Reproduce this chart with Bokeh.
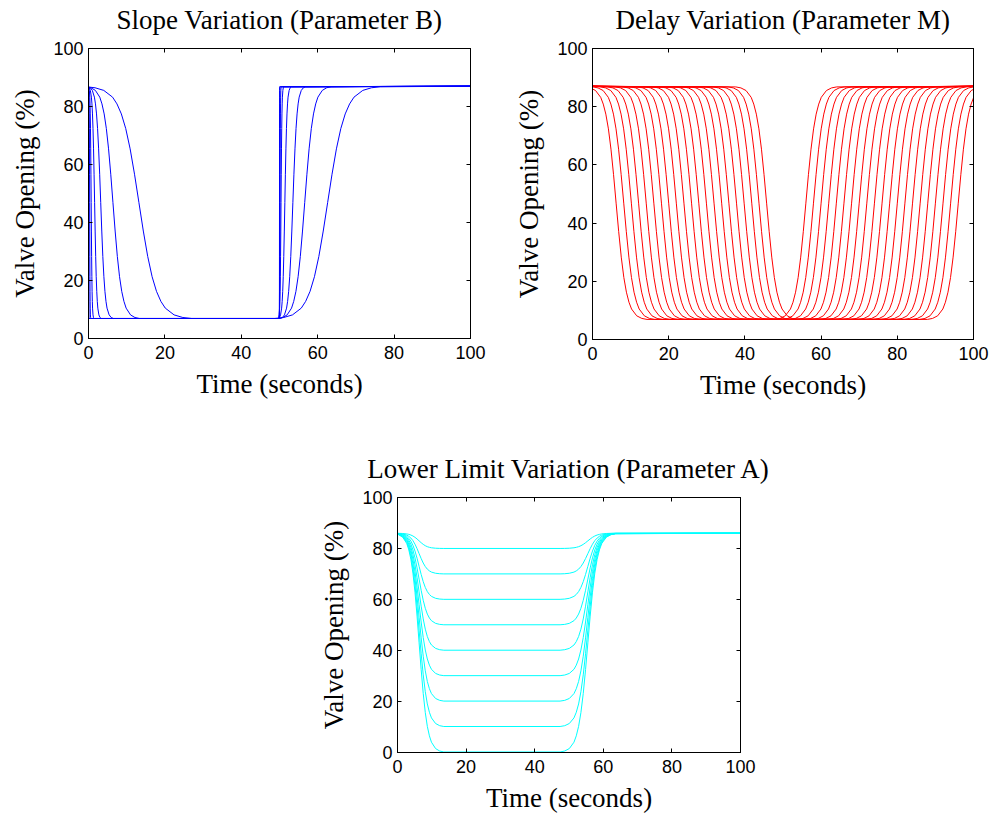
from bokeh.plotting import figure
from bokeh.layouts import column, row
from bokeh.models import ColumnDataSource, Range1d, LinearAxis, FixedTicker
from bokeh.embed import file_html
from bokeh.resources import INLINE

# ---------------- data ----------------
tick_values = [0, 20, 40, 60, 80, 100]

# normalised transition shape (offset in widths -> fraction of the change completed)
profile_offset = [-6, -5, -4, -3, -2.5, -2, -1.5, -1, -0.5, 0, 0.5, 1, 1.5, 2, 2.5, 3, 4, 5, 6]
profile_fraction = [0.0025, 0.0067, 0.018, 0.047, 0.076, 0.119, 0.182, 0.269, 0.378, 0.5,
                    0.622, 0.731, 0.818, 0.881, 0.924, 0.953, 0.982, 0.9933, 0.9975]

# Slope variation (Parameter B)
slope_high = 87.0
slope_low = 6.7
slope_fall_mid = [0.0, 0.05, 0.3, 0.7, 1.6, 3.2, 6.4, 13.2]
slope_rise_mid = [50.0, 50.02, 50.15, 50.4, 51.4, 53.5, 56.6, 62.6]
slope_width = [0.01, 0.01, 0.05, 0.12, 0.28, 0.55, 1.15, 2.3]

# Delay variation (Parameter M)
delay_high = 87.0
delay_low = 6.7
delay_fall_mid = [6.2, 8.2, 10.2, 12.1, 14.1, 16.1, 18.1, 20.0, 22.0, 24.0, 26.0,
                  27.9, 29.9, 31.9, 33.9, 35.8, 37.8, 39.8, 41.8, 43.7, 45.7]
delay_rise_mid = [56.0, 58.0, 60.0, 62.0, 64.0, 66.0, 68.0, 70.0, 72.0, 74.0, 76.0,
                  78.0, 80.0, 82.0, 84.0, 86.0, 88.0, 90.0, 92.0, 94.0, 96.0]
delay_width = [1.35] * len(delay_fall_mid)

# Lower limit variation (Parameter A)
limit_high = 86.0
lower_limits = [0, 10, 20, 30, 40, 50, 60, 70, 80]
limit_fall_mid = 6.3
limit_fall_width = 1.2
limit_rise_mid = 55.5
limit_rise_width = 1.35

SERIF = "Liberation Serif"
SANS = "Liberation Sans"


def pulse(fall_mid, fall_w, rise_mid, rise_w, high, low):
    fall_t = [fall_mid + fall_w * u for u in profile_offset]
    fall_v = [high - (high - low) * f for f in profile_fraction]
    rise_t = [rise_mid + rise_w * u for u in profile_offset]
    rise_v = [low + (high - low) * f for f in profile_fraction]
    t = [min(tick_values[0], fall_t[0])] + fall_t + rise_t + [max(tick_values[-1], rise_t[-1])]
    v = [high] + fall_v + rise_v + [high]
    return t, v


def style_axis(ax):
    ax.ticker = FixedTicker(ticks=tick_values)
    ax.major_tick_in = 4
    ax.major_tick_out = 0
    ax.minor_tick_line_color = None
    ax.axis_line_color = "black"
    ax.major_tick_line_color = "black"
    ax.major_label_text_font = SANS
    ax.major_label_text_font_size = "18px"
    ax.major_label_text_color = "black"
    ax.axis_label_text_font = SERIF
    ax.axis_label_text_font_size = "27px"
    ax.axis_label_text_font_style = "normal"
    ax.axis_label_text_color = "black"


def make_fig(title, fw, fh, left, right, top, bottom):
    p = figure(frame_width=fw, frame_height=fh,
               min_border_left=left, min_border_right=right,
               min_border_top=top, min_border_bottom=bottom,
               x_range=Range1d(0, 100), y_range=Range1d(0, 100),
               output_backend="svg", toolbar_location=None)
    p.grid.visible = False
    p.outline_line_color = "black"
    p.outline_line_alpha = 1.0
    p.background_fill_color = "white"
    p.border_fill_color = "white"

    bottom_ax = p.below[0]
    left_ax = p.left[0]
    style_axis(bottom_ax)
    style_axis(left_ax)
    bottom_ax.axis_label = "Time (seconds)"
    bottom_ax.major_label_standoff = 7
    bottom_ax.axis_label_standoff = 7
    left_ax.axis_label = "Valve Opening (%)"
    left_ax.major_label_standoff = 5
    left_ax.axis_label_standoff = 10

    # box ticks on top and right (no tick labels, like a MATLAB box);
    # the top one carries the panel title
    top_ax = LinearAxis()
    style_axis(top_ax)
    top_ax.major_label_text_color = None
    top_ax.major_label_text_font_size = "1px"
    top_ax.major_label_standoff = 0
    top_ax.axis_label = title
    top_ax.axis_label_standoff = 14
    p.add_layout(top_ax, "above")

    right_ax = LinearAxis()
    style_axis(right_ax)
    right_ax.major_label_text_color = None
    right_ax.major_label_text_font_size = "1px"
    right_ax.major_label_standoff = 0
    p.add_layout(right_ax, "right")
    return p


# ---- Chart 1: slope ----
p1 = make_fig("Slope Variation (Parameter B)", 382, 290, 88, 20, 48, 70)
xs, ys = [], []
for fm, rm, w in zip(slope_fall_mid, slope_rise_mid, slope_width):
    t, v = pulse(fm, w, rm, w, slope_high, slope_low)
    xs.append(t)
    ys.append(v)
p1.multi_line(xs="xs", ys="ys", source=ColumnDataSource(dict(xs=xs, ys=ys)),
              line_color="#0000FF", line_width=1)

# ---- Chart 2: delay ----
p2 = make_fig("Delay Variation (Parameter M)", 381, 291, 102, 19, 48, 69)
xs, ys = [], []
for fm, rm, w in zip(delay_fall_mid, delay_rise_mid, delay_width):
    t, v = pulse(fm, w, rm, w, delay_high, delay_low)
    xs.append(t)
    ys.append(v)
p2.multi_line(xs="xs", ys="ys", source=ColumnDataSource(dict(xs=xs, ys=ys)),
              line_color="#FF0000", line_width=1)

# ---- Chart 3: lower limit ----
p3 = make_fig("Lower Limit Variation (Parameter A)", 343, 255, 397, 70, 89, 64)
xs, ys = [], []
for a in lower_limits:
    t, v = pulse(limit_fall_mid, limit_fall_width, limit_rise_mid, limit_rise_width, limit_high, a)
    xs.append(t)
    ys.append(v)
p3.multi_line(xs="xs", ys="ys", source=ColumnDataSource(dict(xs=xs, ys=ys)),
              line_color="#00FFFF", line_width=1)

layout = column(row(p1, p2), p3)

open("out.html", "w").write(file_html(layout, INLINE))
